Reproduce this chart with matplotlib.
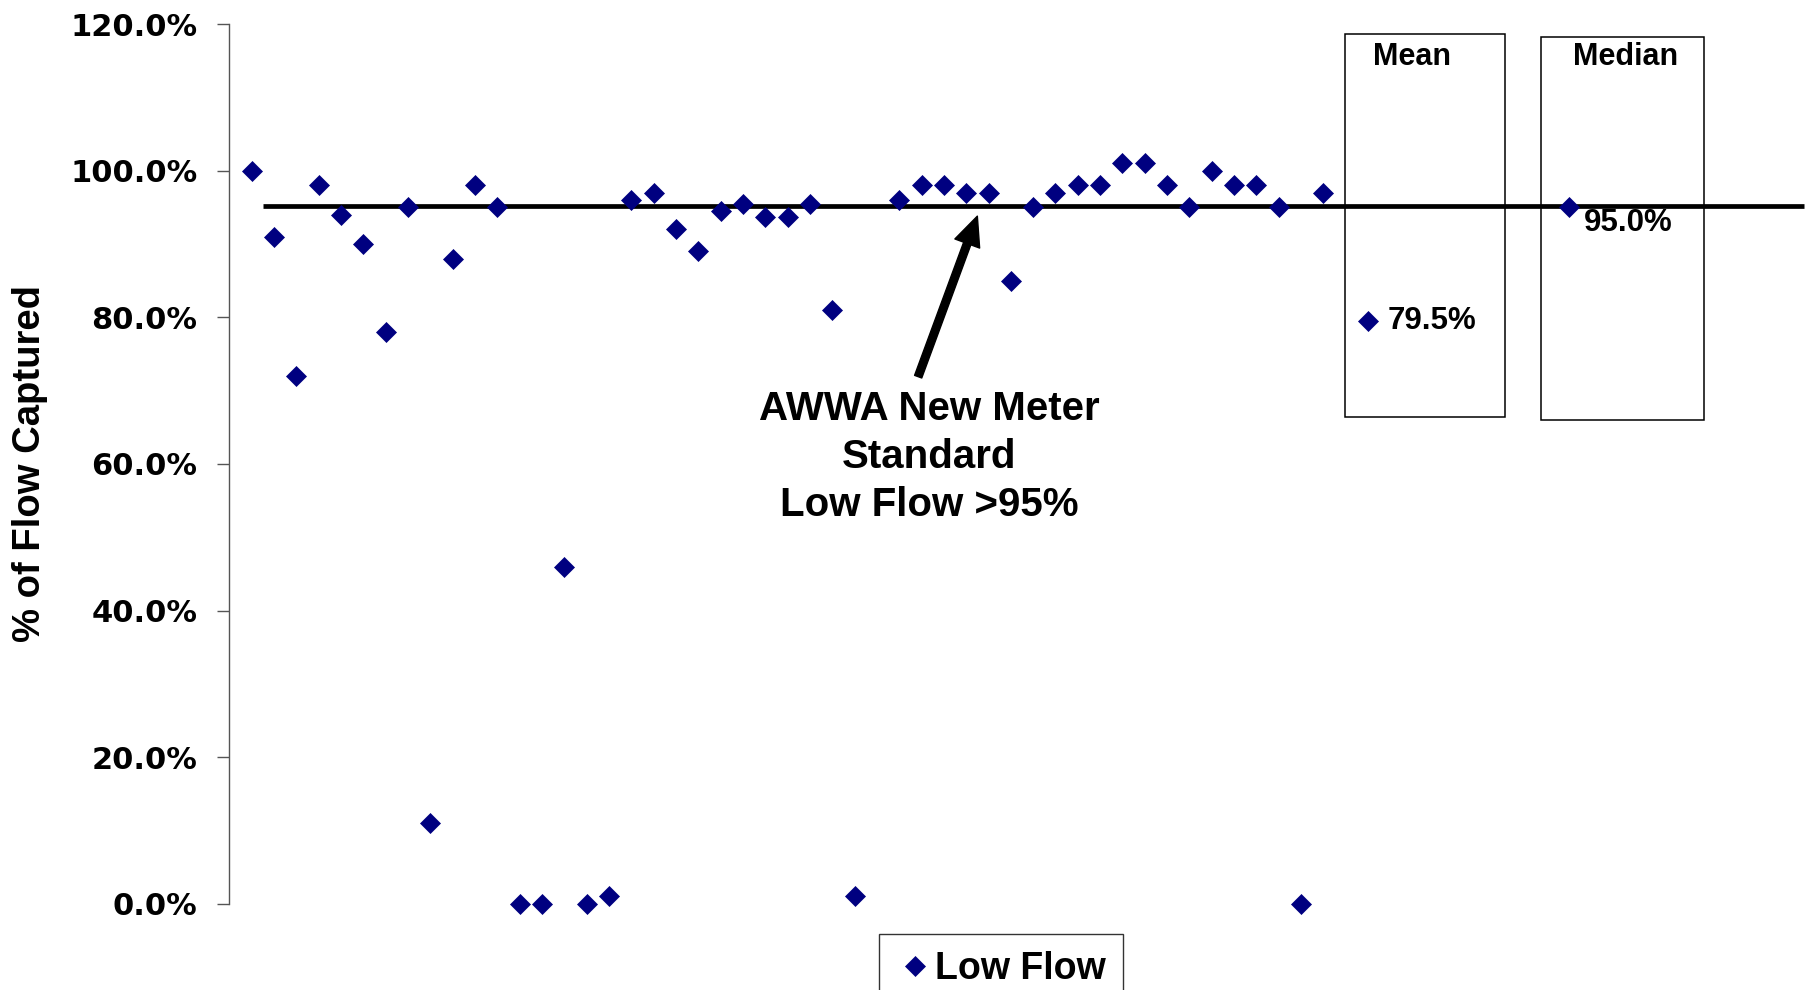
import numpy as np
import matplotlib
matplotlib.use("Agg")
import matplotlib.pyplot as plt
from matplotlib.patches import Rectangle

plt.rcParams['font.family'] = ['Liberation Sans', 'DejaVu Sans']
plt.rcParams['font.weight'] = 'bold'

# meter number -> % of flow captured at low flow (meter 29 has no reading)
meters = list(range(1, 50))
low_flow = [100, 91, 72, 98, 94, 90, 78, 95, 11, 88,
            98, 95, 0, 0, 46, 0, 1, 96, 97, 92,
            89, 94.5, 95.5, 93.7, 93.7, 95.5, 81, 1, np.nan, 96,
            98, 98, 97, 97, 85, 95, 97, 98, 98, 101,
            101, 98, 95, 100, 98, 98, 95, 0, 97]

mean_x, mean_val = 51, 79.5
median_x, median_val = 60, 95.0
standard = 95.2
yticks = [0, 20, 40, 60, 80, 100, 120]

navy = '#000080'

W, H = 1819, 990
fig = plt.figure(figsize=(W / 100, H / 100), dpi=100)
ax = fig.add_axes([229.3 / W, 1 - 903.7 / H, 1585.4 / W, (903.7 - 24.1) / H])

ax.plot(meters, low_flow, linestyle='none', marker='D', markersize=10.5,
        color=navy, markeredgewidth=0.5, label='Low Flow', clip_on=False)
ax.plot([mean_x], [mean_val], linestyle='none', marker='D', markersize=10.5,
        color=navy, markeredgewidth=0.5, clip_on=False)
ax.plot([median_x], [median_val], linestyle='none', marker='D', markersize=10.5,
        color=navy, markeredgewidth=0.5, clip_on=False)

ax.plot([1.5, 70.5], [standard, standard], color='black', linewidth=3.4,
        solid_capstyle='butt', clip_on=False, zorder=1)

ax.annotate('{:.1f}%'.format(mean_val), xy=(mean_x, mean_val), xytext=(14, 0),
            textcoords='offset points', va='center', ha='left', fontsize=22.5)
ax.annotate('{:.1f}%'.format(median_val), xy=(median_x, median_val), xytext=(11, -11),
            textcoords='offset points', va='center', ha='left', fontsize=22.5)

ax.annotate('', xy=(33.5, 93.8), xytext=(30.85, 71.9),
            arrowprops=dict(facecolor='black', edgecolor='black', width=5.5,
                            headwidth=19, headlength=21, shrink=0))
fig.text(929 / W, 1 - 457 / H, 'AWWA New Meter\nStandard\nLow Flow >95%',
         ha='center', va='center', fontsize=29, linespacing=1.32)

# summary boxes
fig.add_artist(Rectangle((1345 / W, 1 - 417.3 / H), 160 / W, 383.3 / H,
                         transform=fig.transFigure, fill=False,
                         edgecolor='black', linewidth=1.1))
fig.add_artist(Rectangle((1540.7 / W, 1 - 419.7 / H), 163.3 / W, 382.4 / H,
                         transform=fig.transFigure, fill=False,
                         edgecolor='black', linewidth=1.1))
fig.text(1411.7 / W, 1 - 56.7 / H, 'Mean', ha='center', va='center', fontsize=22)
fig.text(1625.5 / W, 1 - 56.7 / H, 'Median', ha='center', va='center', fontsize=22)

ax.set_xlim(0, 71)
ax.set_ylim(0, 120)
ax.set_yticks(yticks)
ax.set_yticklabels(['{:.1f}%'.format(v) for v in yticks],
                   fontfamily='DejaVu Sans', fontsize=22, fontweight='bold')
ax.tick_params(axis='y', length=8.6, width=1, color='#555555', pad=14.4)
ax.set_xticks([])
for side in ['top', 'right', 'bottom']:
    ax.spines[side].set_visible(False)
ax.spines['left'].set_color('#555555')
ax.spines['left'].set_linewidth(1)

ax.set_ylabel('% of Flow Captured', fontsize=27.5, fontweight='bold')
ax.yaxis.set_label_coords(-181 / 1585.4, 0.5)

leg = ax.legend(loc='upper left', bbox_to_anchor=(879 / W, 1 - 934 / H),
                bbox_transform=fig.transFigure, frameon=True, fancybox=False,
                fontsize=27, handletextpad=0.05, borderpad=0.45,
                handlelength=1.0, borderaxespad=0)
leg.get_frame().set_edgecolor('black')
leg.get_frame().set_linewidth(1.0)

fig.savefig('out.png', dpi=100)
